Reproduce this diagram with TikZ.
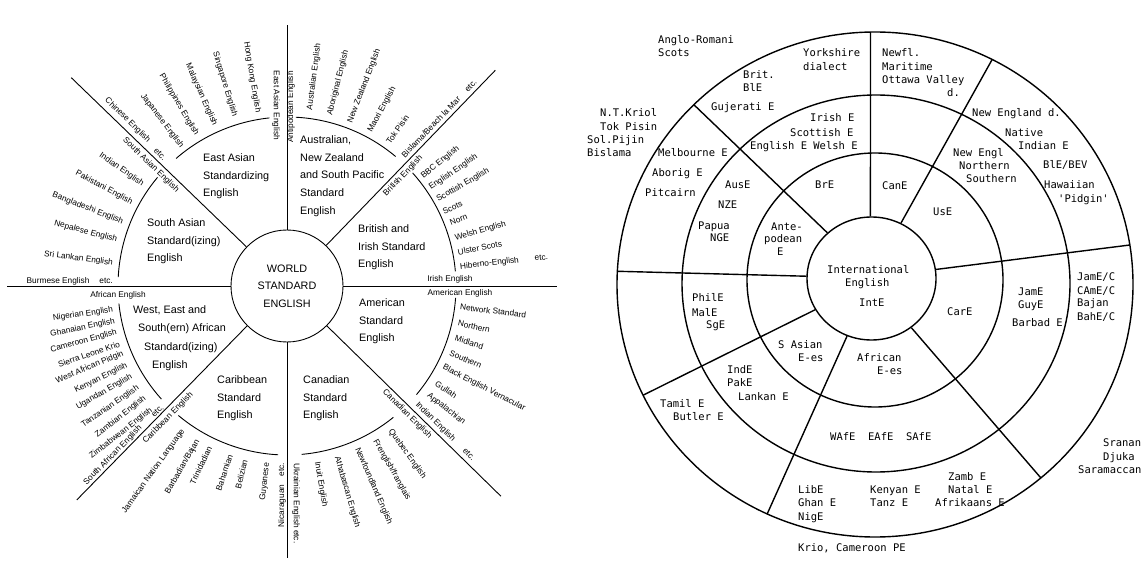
\documentclass[tikz,border=0pt]{standalone}
\usepackage{fontspec}
\setmainfont{Liberation Sans}
\newfontfamily\monofont{DejaVu Sans Mono}
\usetikzlibrary{calc,shapes.geometric}
\newcounter{lbl}
\tikzset{
  sm/.style={font=\fontsize{8.3}{10}\selectfont, inner sep=0pt},
  ttl/.style={font=\fontsize{10.8}{17.7}\selectfont, inner sep=0pt, align=left, anchor=north west},
  mono/.style={font=\monofont\fontsize{10.5}{13.5}\selectfont, inner sep=0pt},
  lline/.style={line width=0.9pt},
  rline/.style={line width=1.4pt},
}
% left diagram: label reading outward / inward, at polar (angle:radius)
\newcommand\lout[3]{\stepcounter{lbl}\node[sm,anchor=west,rotate=#1] (l\thelbl) at (#1:#2) {#3};}
\newcommand\lin[3]{\stepcounter{lbl}\node[sm,anchor=east,rotate=#1+180] (l\thelbl) at (#1:#2) {#3};}
% right diagram: monospaced text, x = left edge, y = pixel centre of line
\newcommand\mtx[4][base west]{\stepcounter{lbl}\node[mono,anchor=#1] (m\thelbl) at (#2,559.2-#3) {#4};}
\begin{document}
\begin{tikzpicture}[x=1pt,y=1pt]
\fill[white] (0,0) rectangle (1148,563);
\useasboundingbox (0,0) rectangle (1148,563);

% ================= LEFT DIAGRAM =================
\begin{scope}[shift={(287,277)}]
\node[circle,draw,lline,minimum size=112pt,inner sep=0pt,align=center,
      font=\fontsize{10.8}{17.7}\selectfont] (world) at (0,0) {WORLD\\STANDARD\\ENGLISH};
\foreach \a/\r in {0/270,46/300,90/261,136/300,180/280,225.5/300,270/272,315.5/300}
  \draw[lline] (world.\a) -- (\a:\r);
\foreach \s/\e in {96/131,50/87,5/42,-4/-40,-51/-85,-93/-130,186/222,140/177}
  \draw[lline] (\s:169) arc[start angle=\s, end angle=\e, radius=169];

% East Asian
\lin{99.5}{176}{Hong Kong English}
\lin{107.1}{177}{Singapore English}
\lin{114.1}{176}{Malaysian English}
\lin{120.8}{176}{Philippines English}
\lin{127.1}{174}{Japanese English}
\node[sm,rotate=-44.4] (chin) at (133.9:230) {Chinese English};
\node[sm,rotate=-44.4] (chinetc) at (133.9:183) {etc.};
\node[sm,rotate=-44] (saeng) at (138.4:182) {South Asian English};
\node[sm,rotate=-90] (eaeng) at (93.5:181) {East Asian English};
\node[sm,rotate=90] (antip) at (88.7:179) {Antipodean English};
% Australian
\lout{82.6}{177.5}{Australian English}
\lout{75.9}{176}{Aboriginal English}
\lout{68.9}{175}{New Zealand English}
\lout{61.7}{175}{Maori English}
\lout{54.8}{175}{Tok Pisin}
\node[sm,anchor=west,rotate=46] (bisl) at (48.3:174) {Bislama/Beach la Mar\hspace{10pt}etc.};
\node[sm,rotate=46] (brit) at (43.5:160) {British English};
% British
\lout{38.9}{173.5}{BBC English}
\lout{34.4}{173}{English English}
\lout{29.8}{173}{Scottish English}
\lout{25.4}{172.7}{Scots}
\lout{21.1}{174.7}{Norn}
\lout{15.9}{174.7}{Welsh English}
\lout{11.2}{174}{Ulster Scots}
\lout{6.3}{174}{Hiberno-English\hspace{16pt}etc.}
\node[sm] (irish) at (163,7) {Irish English};
\node[sm] (ameng) at (173,-7) {American English};
% American
\lout{-6.9}{174.3}{Network Standard}
\lout{-12.2}{175}{Northern}
\lout{-17.2}{176}{Midland}
\lout{-22.3}{176}{Southern}
\lout{-27.4}{175.8}{Black English Vernacular}
\lout{-33.1}{177.8}{Gullah}
\lout{-37.7}{178.2}{Appalachian}
\node[sm,anchor=west,rotate=-44.5] (indam) at (-42.2:175) {Indian English\hspace{14pt}etc.};
\node[sm,rotate=-44.5] (caneng) at (-46.8:175.5) {Canadian English};
% Canadian
\lout{-54.4}{177}{Quebec English}
\lout{-60.3}{177.4}{Frenglish/franglais}
\lout{-66.6}{176.5}{Newfoundland English}
\lout{-73.7}{178}{Athabascan English}
\lout{-80.3}{178.5}{Inuit English}
\node[sm,anchor=west,rotate=-90] (ukr) at (9,-177) {Ukrainian English etc.};
\node[sm,anchor=east,rotate=90] (nica) at (-5,-177) {Nicaraguan\hspace{8pt}etc.};
% Caribbean
\lin{-96.4}{178}{Guyanese}
\lin{-103.6}{179}{Belizian}
\lin{-108.6}{178}{Bahamian}
\lin{-115.6}{178.5}{Trinidadian}
\lin{-120}{178}{Barbadian/Bajan}
\lin{-125.8}{177.6}{Jamaican Nation Language}
\node[sm,rotate=45.5] (careng) at (228:177.7) {Caribbean English};
\node[sm,rotate=45.5] (safr) at (224.2:243) {South African English};
% African
\lin{187.9}{175.6}{Nigerian English}
\lin{191.6}{175.7}{Ghanaian English}
\lin{195.2}{176.4}{Cameroon English}
\lin{199}{177}{Sierra Leone Krio}
\lin{202.4}{177}{West African Pidgin}
\lin{206.3}{178.4}{Kenyan English}
\lin{210.1}{179.4}{Ugandan English}
\lin{214.3}{180}{Tanzanian English}
\lin{218.2}{180.5}{Zambian English}
\node[sm,rotate=38] (zimb) at (221.6:222) {Zimbabwean English};
\node[sm,rotate=42] (zimbetc) at (224:180) {etc.};
\node[sm] (afeng) at (-169,-9) {African English};
\node[sm,anchor=east] (burm) at (-174,5) {Burmese English\hspace{10pt}etc.};
% South Asian
\lin{144.9}{176}{Indian English}
\lin{151.8}{175.8}{Pakistani English}
\lin{158.7}{176}{Bangladeshi English}
\lin{164.9}{176}{Nepalese English}
\lin{172.5}{175.5}{Sri Lankan English}
\end{scope}

% sector titles
\node[ttl] (tEA) at (203,409.5) {East Asian\\Standardizing\\English};
\node[ttl] (tAU) at (300,427.5) {Australian,\\New Zealand\\and South Pacific\\Standard\\English};
\node[ttl] (tBR) at (358,338.5) {British and\\Irish Standard\\English};
\node[ttl] (tAM) at (359,264.5) {American\\Standard\\English};
\node[ttl] (tCA) at (303,187.5) {Canadian\\Standard\\English};
\node[ttl] (tCB) at (217,187.5) {Caribbean\\Standard\\English};
\node[ttl] (tSA) at (147,344.5) {South Asian\\Standard(izing)\\English};
\node[ttl,anchor=base west] (tAF1) at (133,250) {West, East and};
\node[ttl,anchor=base west] (tAF2) at (138,232) {South(ern) African};
\node[ttl,anchor=base west] (tAF3) at (144,213) {Standard(izing)};
\node[ttl,anchor=base west] (tAF4) at (152,195) {English};

% ================= RIGHT DIAGRAM =================
\coordinate (c2) at (875,283);
\coordinate (c3) at (876,279.5);
\coordinate (c4) at (875,278.5);
\node[ellipse,draw,rline,minimum width=129pt,minimum height=123pt,inner sep=0pt] (intl) at (871.5,284.5) {};
\draw[rline] (c2) ellipse [x radius=128, y radius=127];
\draw[rline] (c3) ellipse [x radius=194, y radius=188.5];
\draw[rline] (c4) ellipse [x radius=258, y radius=252.5];
\foreach \a/\b in {91/91,62/63,8/9,-51/-50,-113/-114.7,209.4/206,178.6/177,134/134.6}
  \draw[rline] (intl.\a) -- ($(c4)+(\b:258 and 252.5)$);

\mtx{658}{40}{Anglo-Romani}
\mtx{658}{53}{Scots}
\mtx{803}{53}{Yorkshire}
\mtx{803}{67}{dialect}
\mtx{743}{75}{Brit.}
\mtx{743}{88}{BlE}
\mtx{711}{107}{Gujerati E}
\mtx{600}{113}{N.T.Kriol}
\mtx{600}{127}{Tok Pisin}
\mtx{587}{140}{Sol.Pijin}
\mtx{587}{153}{Bislama}
\mtx{810}{118}{Irish E}
\mtx{790}{133}{Scottish E}
\mtx{750}{146}{English E Welsh E}
\mtx{658}{153}{Melbourne E}
\mtx{652}{173}{Aborig E}
\mtx{645}{193}{Pitcairn}
\mtx{725}{185}{AusE}
\mtx{718}{205}{NZE}
\mtx{698}{226}{Papua}
\mtx{710}{238}{NGE}
\mtx{815}{185}{BrE}
\mtx{771}{227}{Ante-}
\mtx{764}{239}{podean}
\mtx{777}{252}{E}
\mtx{827}{270}{International}
\mtx{845}{283}{English}
\mtx{859}{303}{IntE}
\mtx{882}{53}{Newfl.}
\mtx{882}{67}{Maritime}
\mtx{882}{80}{Ottawa Valley}
\mtx{947}{93}{d.}
\mtx{972}{113}{New England d.}
\mtx{1005}{133}{Native}
\mtx{1018}{146}{Indian E}
\mtx{1043}{165}{BlE/BEV}
\mtx{1044}{185}{Hawaiian}
\mtx{1058}{199}{'Pidgin'}
\mtx{953}{153}{New Engl}
\mtx{959}{166}{Northern}
\mtx{966}{179}{Southern}
\mtx{882}{186}{CanE}
\mtx{933}{212}{UsE}
\mtx{947}{312}{CarE}
\mtx{1018}{292}{JamE}
\mtx{1018}{305}{GuyE}
\mtx{1012}{323}{Barbad E}
\mtx{1077}{277}{JamE/C}
\mtx{1077}{291}{CAmE/C}
\mtx{1077}{303}{Bajan}
\mtx{1077}{317}{BahE/C}
\mtx{857}{358}{African}
\mtx{877}{371}{E-es}
\mtx{830}{437}{WAfE\ \ EAfE\ \ SAfE}
\mtx{948}{477}{Zamb E}
\mtx{948}{490}{Natal E}
\mtx{935}{503}{Afrikaans E}
\mtx{870}{490}{Kenyan E}
\mtx{870}{503}{Tanz E}
\mtx{798}{548}{Krio, Cameroon PE}
\mtx{1103}{443}{Sranan}
\mtx{1103}{457}{Djuka}
\mtx{1078}{470}{Saramaccan}
\mtx{692}{298}{PhilE}
\mtx{692}{313}{MalE}
\mtx{706}{325}{SgE}
\mtx{778}{345}{S Asian}
\mtx{798}{358}{E-es}
\mtx{727}{370}{IndE}
\mtx{727}{383}{PakE}
\mtx{738}{397}{Lankan E}
\mtx{660}{404}{Tamil E}
\mtx{673}{417}{Butler E}
\mtx{798}{490}{LibE}
\mtx{798}{503}{Ghan E}
\mtx{798}{517}{NigE}
\end{tikzpicture}
\end{document}
